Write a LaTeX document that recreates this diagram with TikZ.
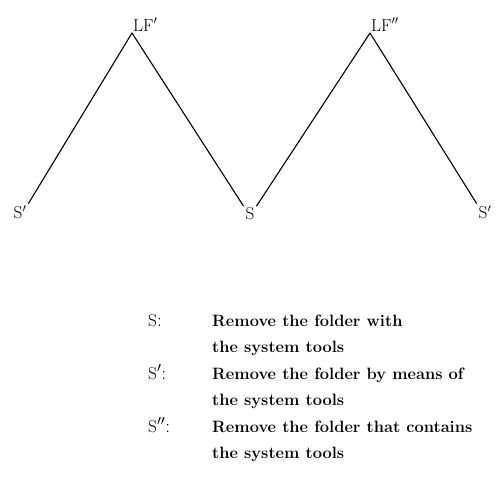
\documentclass[tikz,border=0pt]{standalone}
\usepackage{amsmath}
\usetikzlibrary{positioning,calc}
\tikzset{
  branch/.style={line width=1.1pt, black, line cap=round},
  toplabel/.style={font=\fontsize{17}{20}\selectfont, inner sep=1pt, anchor=south west},
  leaf/.style={font=\fontsize{17}{20}\selectfont, inner sep=2pt},
  keylabel/.style={font=\fontsize{19}{22}\selectfont, anchor=base west, inner sep=0pt},
  gloss/.style={font=\fontsize{16.4}{26.5}\selectfont\bfseries, align=left, anchor=north west, inner sep=0pt}
}
\begin{document}
\begin{tikzpicture}[x=1pt, y=-1pt]
  \useasboundingbox (0,0) rectangle (503,498);
  % the two trees
  \coordinate (apexA) at (132,33);
  \coordinate (apexB) at (370,33);
  \node[toplabel] (lfA) at (apexA) {$\mathrm{LF}'$};
  \node[toplabel] (lfB) at (apexB) {$\mathrm{LF}''$};
  \node[leaf] (leftS) at (20,212) {$\mathrm{S}'$};
  \node[leaf] (midS) at (250,214) {$\mathrm{S}$};
  \node[leaf] (rightS) at (485,212) {$\mathrm{S}'$};
  \draw[branch] (apexA) -- (leftS.north east);
  \draw[branch] (apexA) -- (midS.north west);
  \draw[branch] (apexB) -- (midS.north east);
  \draw[branch] (apexB) -- (rightS.north west);
  % legend
  \node[gloss] (glossA) at (212,314.5) {Remove the folder with\\the system tools};
  \node[gloss] (glossB) at (212,367.5) {Remove the folder by means of\\the system tools};
  \node[gloss] (glossC) at (212,420.5) {Remove the folder that contains\\the system tools};
  \node[keylabel] (keyA) at (148,326) {$\mathrm{S}$:};
  \node[keylabel] (keyB) at (148,379) {$\mathrm{S}'$:};
  \node[keylabel] (keyC) at (148,432) {$\mathrm{S}''$:};
\end{tikzpicture}
\end{document}
